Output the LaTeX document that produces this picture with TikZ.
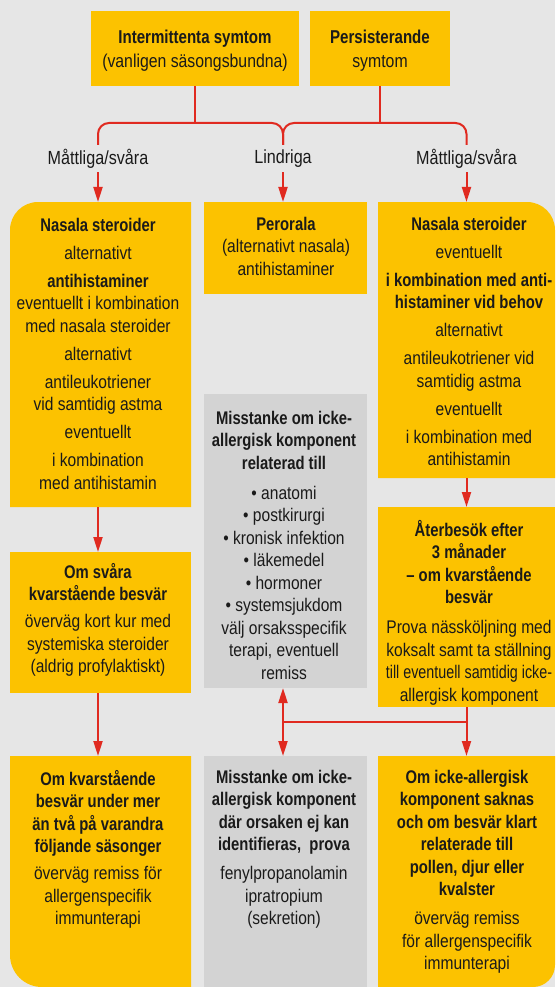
\documentclass[tikz,border=0pt]{standalone}
\usepackage{graphicx}
\usepackage{fontspec}
\setmainfont[FakeStretch=0.85,BoldFeatures={FakeStretch=0.81}]{Liberation Sans}
\usetikzlibrary{arrows.meta,calc}
\definecolor{bg}{HTML}{E6E6E6}
\definecolor{yel}{HTML}{FCC200}
\definecolor{gr}{HTML}{D3D3D3}
\definecolor{rd}{HTML}{E02A20}
\definecolor{ink}{HTML}{1A1A1A}
\begin{document}
\begin{tikzpicture}[x=1pt,y=-1pt,
  box/.style={anchor=north west, inner sep=0pt, outer sep=0pt, draw=none},
  ybox/.style={box, fill=yel},
  gbox/.style={box, fill=gr},
  txt/.style={anchor=north, inner sep=0pt, align=center, text=ink,
    font=\fontsize{18.3pt}{22.5pt}\selectfont, execute at begin node={\rule{0pt}{17pt}}},
  toptxt/.style={txt, font=\fontsize{18.6pt}{24pt}\selectfont},
  lab/.style={inner sep=0pt, text=ink, font=\fontsize{19pt}{22pt}\selectfont, minimum height=27pt},
  conn/.style={draw=rd, line width=2pt},
  arr/.style={conn, -{Triangle[length=15pt,width=9pt]}},
  darr/.style={conn, {Triangle[length=15pt,width=9pt]}-{Triangle[length=15pt,width=9pt]}},
]
\useasboundingbox (0,0) rectangle (555,987);
\fill[bg] (0,0) rectangle (555,987);

% top boxes
\node[ybox, minimum width=208pt, minimum height=75pt] (int) at (91,11) {};
\node[ybox, minimum width=140pt, minimum height=75pt] (per) at (310,11) {};
\node[toptxt] (intt) at (195,30) {\textbf{Intermittenta symtom}\\(vanligen säsongsbundna)};
\node[toptxt] (pert) at (380,30) {\textbf{Persisterande}\\symtom};

% labels
\node[lab] (lab1) at (98,158.5) {Måttliga/svåra};
\node[lab] (lab2) at (283,158.5) {Lindriga};
\node[lab] (lab3) at (466.5,158.5) {Måttliga/svåra};

% row 2
\node[box, minimum width=181pt, minimum height=305pt] (ns1) at (10,202) {};
\fill[yel] (ns1.south west) -- ($(ns1.north west)+(0,28)$) arc[start angle=180,end angle=270,radius=28] -- (ns1.north east) -- (ns1.south east) -- cycle;
\node[ybox, minimum width=163pt, minimum height=92pt] (per2) at (204,202) {};
\node[box, minimum width=177pt, minimum height=276pt] (ns2) at (378,202) {};
\fill[yel] (ns2.south west) -- (ns2.north west) -- ($(ns2.north east)+(-28,0)$) arc[start angle=270,end angle=360,radius=28] -- (ns2.south east) -- cycle;
\node[gbox, minimum width=163pt, minimum height=294pt] (gray1) at (204,394) {};
\node[ybox, minimum width=181pt, minimum height=141pt] (svara) at (10,552) {};
\node[ybox, minimum width=177pt, minimum height=200pt] (ater) at (378,507) {};

% bottom row
\node[box, minimum width=181pt, minimum height=231pt] (bl) at (10,756) {};
\fill[yel] (bl.north west) -- ($(bl.south west)+(0,-32)$) arc[start angle=180,end angle=90,radius=32] -- (bl.south east) -- (bl.north east) -- cycle;
\node[gbox, minimum width=163pt, minimum height=231pt] (gray2) at (204,756) {};
\node[box, minimum width=177pt, minimum height=231pt] (br) at (378,756) {};
\fill[yel] (br.north west) -- (br.south west) -- ($(br.south east)+(-22,0)$) arc[start angle=90,end angle=0,radius=22] -- (br.north east) -- cycle;

% texts
\node[txt] (ns1t) at (98,218) {\textbf{Nasala steroider}\\[5.5pt]
alternativt\\[5.5pt]
\textbf{antihistaminer}\\
eventuellt i kombination\\
med nasala steroider\\[5.5pt]
alternativt\\[5.5pt]
antileukotriener\\
vid samtidig astma\\[5.5pt]
eventuellt\\[5.5pt]
i kombination\\
med antihistamin};

\node[txt] (per2t) at (286,217) {\textbf{Perorala}\\(alternativt nasala)\\antihistaminer};

\node[txt] (ns2t) at (469,217) {\textbf{Nasala steroider}\\[5.5pt]
eventuellt\\[5.5pt]
\textbf{i kombination med anti-}\\
\textbf{histaminer vid behov}\\[5.5pt]
alternativt\\[5.5pt]
antileukotriener vid\\
samtidig astma\\[5.5pt]
eventuellt\\[5.5pt]
i kombination med\\
antihistamin};

\node[txt] (gray1t) at (284,411) {\textbf{Misstanke om icke-}\\
\textbf{allergisk komponent}\\
\textbf{relaterad till}\\[7.5pt]
• anatomi\\
• postkirurgi\\
• kronisk infektion\\
• läkemedel\\
• hormoner\\
• systemsjukdom\\
välj orsaksspecifik\\
terapi, eventuell\\
remiss};

\node[txt] (svarat) at (98,563) {\textbf{Om svåra}\\
\textbf{kvarstående besvär}\\[4.5pt]
överväg kort kur med\\
systemiska steroider\\
(aldrig profylaktiskt)};

\node[txt] (atert) at (469,520) {\textbf{Återbesök efter}\\
\textbf{3 månader}\\
\textbf{– om kvarstående}\\
\textbf{besvär}\\[7.5pt]
Prova nässköljning med\\
koksalt samt ta ställning\\
\scalebox{0.92}[1]{till eventuell samtidig icke-}\\
allergisk komponent};

\node[txt] (blt) at (98,770) {\textbf{Om kvarstående}\\
\textbf{besvär under mer}\\
\textbf{än två på varandra}\\
\textbf{följande säsonger}\\[4.5pt]
överväg remiss för\\
allergenspecifik\\
immunterapi};

\node[txt] (gray2t) at (284,770) {\textbf{Misstanke om icke-}\\
\textbf{allergisk komponent}\\
\textbf{där orsaken ej kan}\\
\textbf{identifieras,~ prova}\\[6.5pt]
fenylpropanolamin\\
ipratropium\\
(sekretion)};

\node[txt] (brt) at (467,770) {\textbf{Om icke-allergisk}\\
\textbf{komponent saknas}\\
\textbf{och om besvär klart}\\
\textbf{relaterade till}\\
\textbf{pollen, djur eller}\\
\textbf{kvalster}\\[6.5pt]
överväg remiss\\
för allergenspecifik\\
immunterapi};

% connectors
\coordinate (hy) at (0,123);
\draw[conn] (int.south) -- (int.south |- hy);
\draw[conn] (per.south) -- (per.south |- hy);
\draw[conn, rounded corners=11pt] (lab1.north) -- (lab1.north |- hy) -- (lab2.north |- hy) -- (lab2.north);
\draw[conn, rounded corners=11pt] (lab2.north) -- (lab2.north |- hy) -- (lab3.north |- hy) -- (lab3.north);
\draw[arr] (lab1.south) -- (lab1.south |- ns1.north);
\draw[arr] (lab2.south) -- (lab2.south |- per2.north);
\draw[arr] (lab3.south) -- (lab3.south |- ns2.north);
\draw[arr] (ns1.south -| lab1) -- (svara.north -| lab1);
\draw[arr] (svara.south -| lab1) -- (bl.north -| lab1);
\draw[arr] (ns2.south) -- (ater.north);
\draw[arr] (ater.south) -- (br.north);
\coordinate (jn) at (283,722);
\draw[darr] (gray1.south -| jn) -- (gray2.north -| jn);
\draw[conn] (jn) -- (jn -| ater.south);
\end{tikzpicture}
\end{document}
